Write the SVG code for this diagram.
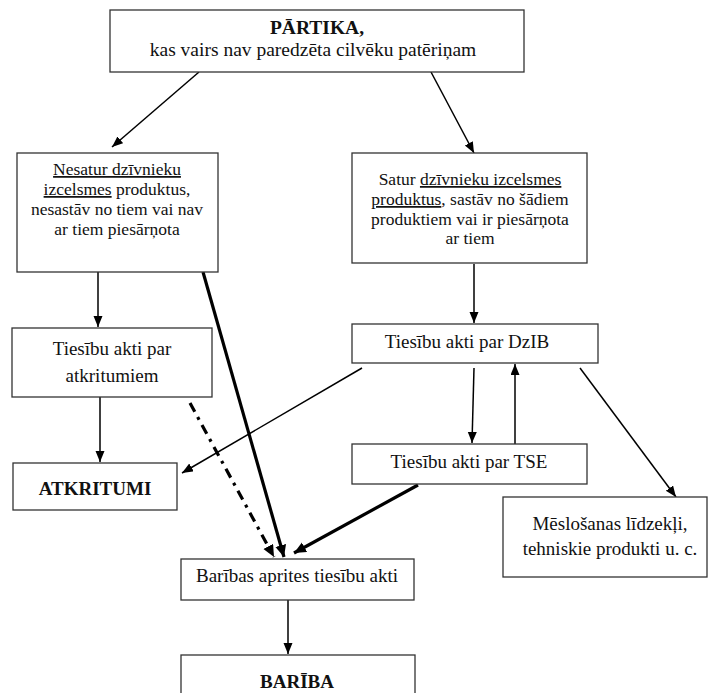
<svg xmlns="http://www.w3.org/2000/svg" width="708" height="693" viewBox="0 0 708 693">
<style>
.box{fill:#fff;stroke:#333;stroke-width:1.3}
.u{text-decoration:underline}
.c{fill:none;stroke:#000;stroke-width:1.5}
.t{fill:none;stroke:#000;stroke-width:3.2}
.d{fill:none;stroke:#000;stroke-width:3.2;stroke-dasharray:10,6,3,6}
</style>
<defs>
<marker id="a" markerUnits="userSpaceOnUse" markerWidth="12" markerHeight="10" refX="11" refY="4.5" orient="auto"><path d="M0,0 L11,4.5 L0,9 z" fill="#000"/></marker>
<marker id="at" markerUnits="userSpaceOnUse" markerWidth="14" markerHeight="12" refX="12" refY="5.5" orient="auto"><path d="M0,0 L12,5.5 L0,11 z" fill="#000"/></marker>
</defs>
<rect width="708" height="693" fill="#fff"/>
<g id="connectors">
<line class="c" x1="199" y1="72" x2="112" y2="147" marker-end="url(#a)"/>
<line class="c" x1="431" y1="72" x2="474" y2="153" marker-end="url(#a)"/>
<line class="c" x1="98" y1="272" x2="98" y2="327" marker-end="url(#a)"/>
<line class="c" x1="474" y1="264" x2="474" y2="323" marker-end="url(#a)"/>
<line class="c" x1="100" y1="397" x2="100" y2="462" marker-end="url(#a)"/>
<line class="c" x1="362" y1="368" x2="182" y2="473" marker-end="url(#a)"/>
<line class="c" x1="474" y1="368" x2="472" y2="443" marker-end="url(#a)"/>
<line class="c" x1="515" y1="444" x2="515" y2="364" marker-end="url(#a)"/>
<line class="c" x1="580" y1="368" x2="676" y2="497" marker-end="url(#a)"/>
<line class="t" x1="203" y1="272" x2="284" y2="557" marker-end="url(#at)"/>
<line class="d" x1="190" y1="403" x2="274" y2="557" marker-end="url(#at)"/>
<line class="t" x1="418" y1="485" x2="294" y2="553" marker-end="url(#at)"/>
<line class="c" x1="288" y1="600" x2="288" y2="654" marker-end="url(#a)"/>
</g>
<g font-family="Liberation Serif, Times New Roman, serif" font-size="19" fill="#111" text-anchor="middle">
<g id="partika">
<rect class="box" x="110" y="10" width="414" height="62"/>
<text x="317" y="34" font-weight="bold" font-size="19.5">PĀRTIKA,</text>
<text x="313" y="56" font-size="19.5">kas vairs nav paredzēta cilvēku patēriņam</text>
</g>
<g id="nesatur" font-size="17.5">
<rect class="box" x="17" y="153" width="201" height="119"/>
<text x="117" y="175"><tspan class="u">Nesatur dzīvnieku</tspan></text>
<text x="117" y="195"><tspan class="u">izcelsmes</tspan> produktus,</text>
<text x="117" y="215">nesastāv no tiem vai nav</text>
<text x="117" y="235">ar tiem piesārņota</text>
</g>
<g id="satur" font-size="17.5">
<rect class="box" x="352" y="153" width="235" height="110"/>
<text x="470" y="185">Satur <tspan class="u">dzīvnieku izcelsmes</tspan></text>
<text x="470" y="205"><tspan class="u">produktus</tspan>, sastāv no šādiem</text>
<text x="470" y="225">produktiem vai ir piesārņota</text>
<text x="470" y="244">ar tiem</text>
</g>
<g id="atkritumiem">
<rect class="box" x="12" y="328" width="200" height="69"/>
<text x="112" y="355">Tiesību akti par</text>
<text x="112" y="382">atkritumiem</text>
</g>
<g id="atkritumi">
<rect class="box" x="13" y="463" width="164" height="47"/>
<text x="95" y="495" font-weight="bold">ATKRITUMI</text>
</g>
<g id="dzib">
<rect class="box" x="352" y="324" width="246" height="39"/>
<text x="467" y="348">Tiesību akti par DzIB</text>
</g>
<g id="tse">
<rect class="box" x="352" y="444" width="235" height="40"/>
<text x="469" y="468">Tiesību akti par TSE</text>
</g>
<g id="meslosanas">
<rect class="box" x="503" y="497" width="204" height="80"/>
<text x="610" y="530">Mēslošanas līdzekļi,</text>
<text x="610" y="555">tehniskie produkti u. c.</text>
</g>
<g id="aprites">
<rect class="box" x="181" y="559" width="233" height="41"/>
<text x="297" y="582">Barības aprites tiesību akti</text>
</g>
<g id="bariba">
<rect class="box" x="181" y="655" width="234" height="50"/>
<text x="297" y="688" font-weight="bold">BARĪBA</text>
</g>
</g>
</svg>
